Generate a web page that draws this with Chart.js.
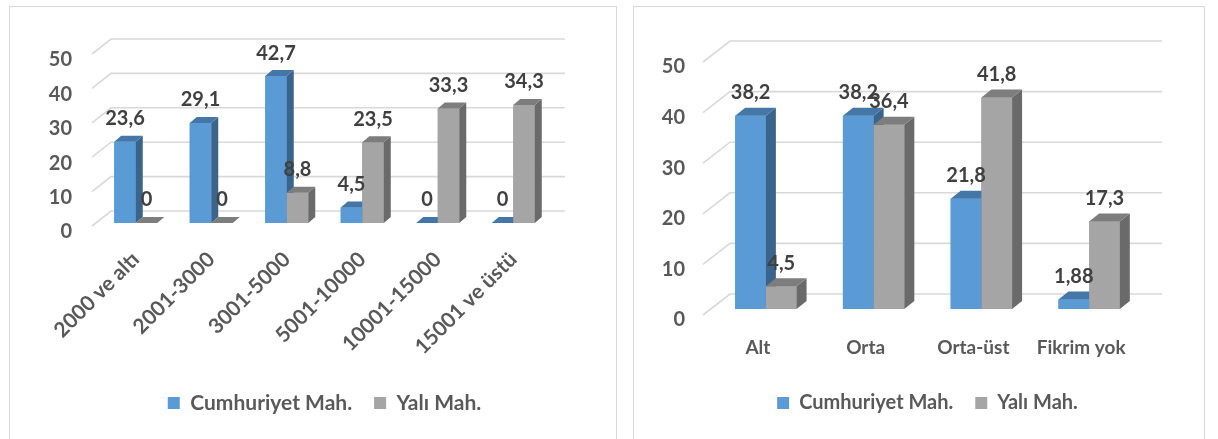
<!DOCTYPE html>
<html>
<head>
<meta charset="utf-8">
<script src="https://cdn.jsdelivr.net/npm/chart.js@4.4.1/dist/chart.umd.min.js"></script>
<style>
  body { margin: 0; background: #fff; width: 1218px; height: 439px; overflow: hidden; position: relative; font-family: Lato, sans-serif; }
  .panel { position: absolute; top: 6px; height: 440px; border: 1px solid #d9d9d9; background: #fff; }
  #leftPanel { left: 9px; width: 606px; }
  #rightPanel { left: 633px; width: 570px; }
  canvas { position: absolute; left: 0; top: 0; }
</style>
</head>
<body>
<div class="panel" id="leftPanel"><canvas id="incomeChart" width="606" height="432"></canvas></div>
<div class="panel" id="rightPanel"><canvas id="levelChart" width="570" height="432"></canvas></div>
<script>
// Series names
const seriesNames = ['Cumhuriyet Mah.', 'Yalı Mah.'];

// Left chart: income groups
const incomeLabels = ['2000 ve altı', '2001-3000', '3001-5000', '5001-10000', '10001-15000', '15001 ve üstü'];
const incomeCumhuriyet = [23.6, 29.1, 42.7, 4.5, 0, 0];
const incomeYali = [0, 0, 8.8, 23.5, 33.3, 34.3];

// Right chart: self-assessed level
const levelLabels = ['Alt', 'Orta', 'Orta-üst', 'Fikrim yok'];
const levelCumhuriyet = [38.2, 38.2, 21.8, 1.88];
const levelYali = [4.5, 36.4, 41.8, 17.3];

// Value axis
const yMin = 0;
const yMax = 50;
const yStep = 10;

// Face colours for the fake 3D bars (front, side, top)
const faceColors = [
  { front: '#5b9bd5', side: '#3a648c', top: '#4477a8' },
  { front: '#a5a5a5', side: '#6a6a6a', top: '#7d7d7d' }
];

const textGrey = '#595959';
const labelGrey = '#404040';

/**
 * Draws Excel-like 3D gridlines, bar sides/tops and value labels
 */
const bar3dPlugin = {
  id: 'bar3d',
  beforeDatasetsDraw(chart, args, opts) {
    const { ctx, chartArea: ca, scales: { y } } = chart;
    const g = opts.grid;
    ctx.save();
    ctx.strokeStyle = '#d9d9d9';
    ctx.lineWidth = 1.6;
    y.ticks.forEach(t => {
      const py = y.getPixelForValue(t.value);
      ctx.beginPath();
      ctx.moveTo(ca.left + g.frontX, py + g.frontY);
      ctx.lineTo(ca.left + g.backX, py + g.backY);
      ctx.lineTo(ca.right + g.rightX, py + g.backY);
      ctx.stroke();
    });
    ctx.restore();
  },
  afterDatasetsDraw(chart, args, opts) {
    const { ctx } = chart;
    const { dx, dy, labelGap } = opts;
    const metas = chart.data.datasets.map((ds, i) => chart.getDatasetMeta(i));
    ctx.save();
    // Draw category by category so the right bar hides the left bar's side
    chart.data.labels.forEach((lab, i) => {
      metas.forEach((meta, d) => {
        const el = meta.data[i];
        const { x, y, base, width } = el.getProps(['x', 'y', 'base', 'width'], true);
        const c = faceColors[d];
        const l = x - width / 2;
        const r = x + width / 2;
        ctx.fillStyle = c.front;
        ctx.fillRect(l, y, width, base - y);
        ctx.fillStyle = c.side;
        ctx.beginPath();
        ctx.moveTo(r, y);
        ctx.lineTo(r + dx, y - dy);
        ctx.lineTo(r + dx, base - dy);
        ctx.lineTo(r, base);
        ctx.closePath();
        ctx.fill();
        ctx.fillStyle = c.top;
        ctx.beginPath();
        ctx.moveTo(l, y);
        ctx.lineTo(l + dx, y - dy);
        ctx.lineTo(r + dx, y - dy);
        ctx.lineTo(r, y);
        ctx.closePath();
        ctx.fill();
      });
    });
    // Value labels with comma decimals
    ctx.font = 'bold 20px Lato';
    ctx.fillStyle = labelGrey;
    ctx.textAlign = 'center';
    ctx.textBaseline = 'middle';
    metas.forEach((meta, d) => {
      meta.data.forEach((el, i) => {
        const v = chart.data.datasets[d].data[i];
        ctx.fillText(String(v).replace('.', ','), el.x, el.y - labelGap);
      });
    });
    ctx.restore();
  }
};

/**
 * Build one grouped bar chart
 */
function makeChart(id, labels, cumValues, yaliValues, geo) {
  const ctx = document.getElementById(id).getContext('2d');
  return new Chart(ctx, {
    type: 'bar',
    data: {
      labels: labels,
      datasets: [
        {
          label: seriesNames[0],
          data: cumValues,
          backgroundColor: faceColors[0].front,
          borderWidth: 0,
          categoryPercentage: geo.catPct,
          barPercentage: 1
        },
        {
          label: seriesNames[1],
          data: yaliValues,
          backgroundColor: faceColors[1].front,
          borderWidth: 0,
          categoryPercentage: geo.catPct,
          barPercentage: 1
        }
      ]
    },
    options: {
      responsive: false,
      animation: false,
      layout: {
        padding: { left: 0, right: geo.padRight, top: geo.padTop, bottom: geo.padBottom }
      },
      scales: {
        x: {
          grid: { display: false, drawTicks: false },
          border: { display: false },
          ticks: {
            autoSkip: false,
            minRotation: geo.rot,
            maxRotation: geo.rot,
            padding: geo.xPad,
            labelOffset: geo.xLabelOffset,
            color: textGrey,
            font: { family: 'Lato', size: geo.xSize, weight: 'bold' }
          },
          afterFit: s => { s.height = geo.xHeight; }
        },
        y: {
          min: yMin,
          max: yMax,
          grid: { display: false, drawTicks: false },
          border: { display: false },
          ticks: {
            stepSize: yStep,
            padding: geo.yPad,
            labelOffset: geo.yLabelOffset,
            color: textGrey,
            font: { family: 'Lato', size: 20, weight: 'bold' }
          },
          afterFit: s => { s.width = geo.yWidth; }
        }
      },
      plugins: {
        legend: {
          position: 'bottom',
          fullSize: false,
          labels: {
            boxWidth: 12,
            boxHeight: 12,
            padding: 22,
            color: textGrey,
            font: { family: 'Lato', size: geo.legendSize, weight: 'bold' }
          }
        },
        tooltip: { enabled: false },
        bar3d: {
          dx: geo.dx,
          dy: geo.dy,
          labelGap: 23,
          grid: geo.grid
        }
      }
    },
    plugins: [bar3dPlugin]
  });
}

makeChart('incomeChart', incomeLabels, incomeCumhuriyet, incomeYali, {
  catPct: 0.57, padRight: 65, padTop: 44, padBottom: 15.5,
  xHeight: 147.5, yWidth: 88, yPad: 26, yLabelOffset: 9,
  rot: 45, xPad: 24, xLabelOffset: 0, xSize: 21, legendSize: 21,
  dx: 7, dy: 6,
  grid: { frontX: -6, frontY: 3, backX: 13, backY: -12, rightX: 14 }
});

makeChart('levelChart', levelLabels, levelCumhuriyet, levelYali, {
  catPct: 0.57, padRight: 61, padTop: 49, padBottom: 16,
  xHeight: 62, yWidth: 78, yPad: 27, yLabelOffset: 11,
  rot: 0, xPad: 27, xLabelOffset: -8, xSize: 19, legendSize: 20,
  dx: 10, dy: 8,
  grid: { frontX: -9, frontY: 6, backX: 18, backY: -15, rightX: 19 }
});
</script>
</body>
</html>
